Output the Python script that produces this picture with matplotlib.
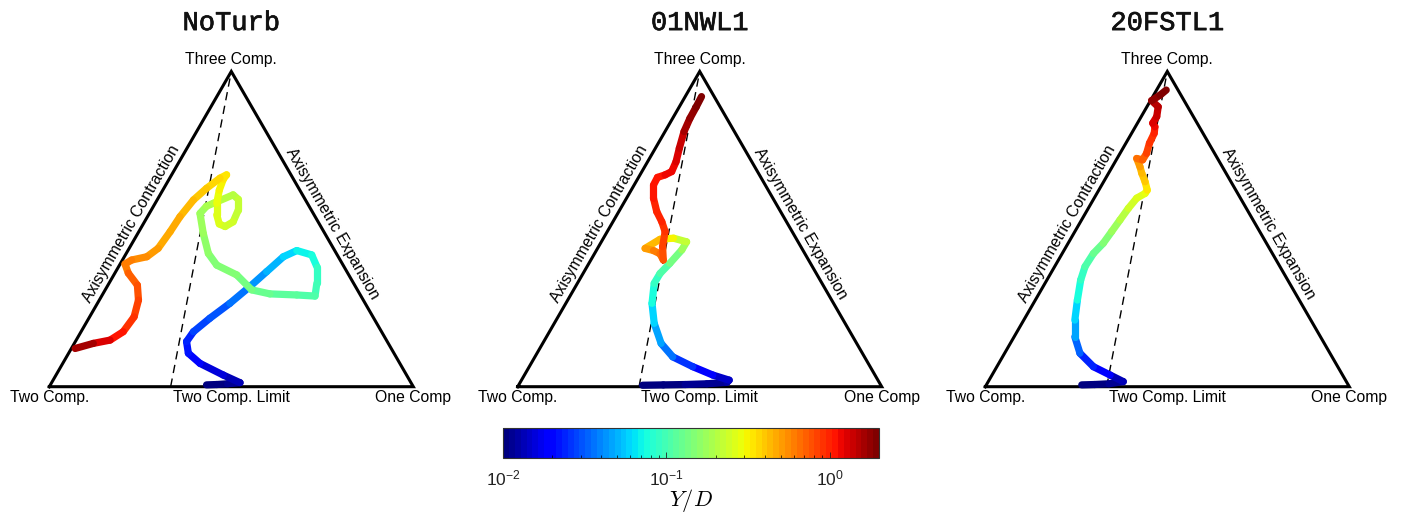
import numpy as np
import matplotlib
matplotlib.use('Agg')
import matplotlib.pyplot as plt
from matplotlib.collections import LineCollection
from matplotlib.colors import LogNorm
import matplotlib.ticker as mticker
import matplotlib.cm as cm
import matplotlib.patheffects as pe

plt.rcParams['font.family'] = ['Liberation Sans', 'DejaVu Sans']
plt.rcParams['mathtext.fontset'] = 'custom'
plt.rcParams['mathtext.rm'] = 'Liberation Sans'
plt.rcParams['mathtext.it'] = 'Liberation Sans:italic'

# ---------------- data ----------------
titles = ['NoTurb', '01NWL1', '20FSTL1']
corner_labels = ['Two Comp.', 'Two Comp. Limit', 'One Comp', 'Three Comp.']
edge_labels = ['Axisymmetric Contraction', 'Axisymmetric Expansion']
cbar_ticks = [0.01, 0.1, 1.0]
cbar_range = [0.01, 2.0]

# barycentric-map coordinates (x, y) and wall distance Y/D
noturb_x = [0.432, 0.460, 0.490, 0.524, 0.478, 0.414, 0.382, 0.377, 0.396, 0.441,
            0.496, 0.551, 0.597, 0.643, 0.680, 0.721, 0.735, 0.735, 0.730, 0.680,
            0.606, 0.556, 0.515, 0.460, 0.437, 0.423, 0.414, 0.432, 0.451, 0.505,
            0.519, 0.519, 0.505, 0.483, 0.467, 0.460, 0.460, 0.467, 0.478, 0.487,
            0.469, 0.432, 0.396, 0.359, 0.332, 0.299, 0.268, 0.226, 0.208, 0.217,
            0.242, 0.245, 0.233, 0.203, 0.167, 0.121, 0.071]
noturb_y = [0.005, 0.006, 0.008, 0.011, 0.032, 0.064, 0.092, 0.124, 0.151, 0.188,
            0.229, 0.275, 0.316, 0.357, 0.374, 0.362, 0.330, 0.284, 0.249, 0.252,
            0.255, 0.266, 0.307, 0.334, 0.366, 0.421, 0.476, 0.496, 0.504, 0.527,
            0.515, 0.485, 0.453, 0.440, 0.447, 0.472, 0.504, 0.540, 0.570, 0.582,
            0.573, 0.545, 0.513, 0.467, 0.426, 0.380, 0.357, 0.348, 0.337, 0.312,
            0.279, 0.238, 0.192, 0.151, 0.128, 0.119, 0.105]
noturb_yd = [0.010, 0.0105, 0.011, 0.012, 0.015, 0.018, 0.021, 0.023, 0.026, 0.029,
             0.033, 0.039, 0.046, 0.055, 0.065, 0.075, 0.083, 0.092, 0.100, 0.108,
             0.118, 0.127, 0.137, 0.147, 0.156, 0.165, 0.175, 0.185, 0.195, 0.205,
             0.215, 0.225, 0.235, 0.245, 0.255, 0.265, 0.280, 0.300, 0.320, 0.340,
             0.360, 0.390, 0.420, 0.450, 0.470, 0.500, 0.530, 0.560, 0.600, 0.650,
             0.720, 0.800, 0.880, 0.980, 1.150, 1.400, 1.750]

nwl_x = [0.343, 0.400, 0.460, 0.520, 0.575, 0.581, 0.536, 0.481, 0.426, 0.394,
         0.375, 0.369, 0.375, 0.391, 0.418, 0.451, 0.464, 0.428, 0.391, 0.350,
         0.373, 0.391, 0.400, 0.398, 0.405, 0.396, 0.382, 0.373, 0.373, 0.384,
         0.405, 0.423, 0.435, 0.444, 0.457, 0.473, 0.490, 0.505]
nwl_y = [0.004, 0.005, 0.006, 0.008, 0.012, 0.018, 0.032, 0.055, 0.082, 0.119,
         0.174, 0.229, 0.284, 0.311, 0.339, 0.376, 0.398, 0.408, 0.405, 0.380,
         0.374, 0.365, 0.348, 0.385, 0.426, 0.453, 0.481, 0.518, 0.554, 0.575,
         0.582, 0.591, 0.618, 0.655, 0.701, 0.737, 0.768, 0.797]
nwl_yd = [0.010, 0.0105, 0.011, 0.0115, 0.012, 0.013, 0.016, 0.022, 0.030, 0.040,
          0.052, 0.065, 0.085, 0.100, 0.120, 0.150, 0.200, 0.270, 0.360, 0.480,
          0.560, 0.640, 0.720, 0.820, 0.900, 0.950, 0.990, 1.020, 1.050, 1.080,
          1.120, 1.170, 1.250, 1.350, 1.500, 1.650, 1.800, 2.000]

fstl_x = [0.265, 0.300, 0.340, 0.379, 0.343, 0.297, 0.260, 0.246, 0.246, 0.253,
          0.262, 0.274, 0.297, 0.324, 0.347, 0.370, 0.393, 0.416, 0.439, 0.445,
          0.439, 0.430, 0.425, 0.416, 0.432, 0.443, 0.451, 0.464, 0.466, 0.460,
          0.471, 0.475, 0.457, 0.480, 0.497]
fstl_y = [0.005, 0.006, 0.008, 0.014, 0.032, 0.055, 0.092, 0.137, 0.183, 0.238,
          0.293, 0.330, 0.366, 0.394, 0.426, 0.458, 0.490, 0.518, 0.531, 0.540,
          0.563, 0.586, 0.604, 0.627, 0.623, 0.641, 0.669, 0.696, 0.714, 0.724,
          0.742, 0.769, 0.786, 0.801, 0.815]
fstl_yd = [0.010, 0.0105, 0.011, 0.012, 0.016, 0.021, 0.028, 0.040, 0.055, 0.068,
           0.085, 0.100, 0.120, 0.140, 0.160, 0.190, 0.220, 0.260, 0.280, 0.310,
           0.360, 0.420, 0.480, 0.580, 0.680, 0.780, 0.880, 0.980, 1.080, 1.180,
           1.280, 1.400, 1.600, 1.800, 2.000]

series = [(noturb_x, noturb_y, noturb_yd),
          (nwl_x, nwl_y, nwl_yd),
          (fstl_x, fstl_y, fstl_yd)]

# ---------------- figure ----------------
W, H = 1402, 515
fig = plt.figure(figsize=(W / 100, H / 100), dpi=100)
fig.patch.set_facecolor('white')

cmap = matplotlib.colormaps['jet'].resampled(64)
norm = LogNorm(vmin=cbar_range[0], vmax=cbar_range[1])

S = 364.0            # px per unit of barycentric map
x0s = [49.3, 517.7, 985.3]
base = 128.3
xl = (-0.13, 1.13)
yl = (-0.10, 1.00)
h3 = np.sqrt(3) / 2

for i in range(3):
    x0 = x0s[i]
    ax = fig.add_axes([(x0 + xl[0] * S) / W, (base + yl[0] * S) / H,
                       (xl[1] - xl[0]) * S / W, (yl[1] - yl[0]) * S / H])
    ax.set_xlim(*xl)
    ax.set_ylim(*yl)
    ax.axis('off')

    # triangle
    tri = np.array([[0, 0], [1, 0], [0.5, h3], [0, 0]])
    ax.plot(tri[:, 0], tri[:, 1], color='black', lw=2.2,
            solid_joinstyle='miter', zorder=2)
    # plane-strain dashed line
    ax.plot([1 / 3, 0.5], [0, h3], color='black', lw=1.0,
            dashes=(6, 4), zorder=2)

    # trajectory
    x, y, yd = series[i]
    pts = np.column_stack([x, y])
    segs = np.stack([pts[:-1], pts[1:]], axis=1)
    yd = np.asarray(yd)
    vals = np.sqrt(yd[:-1] * yd[1:])
    lc = LineCollection(segs, cmap=cmap, norm=norm, linewidths=5.2,
                        capstyle='round', joinstyle='round', zorder=3)
    lc.set_array(vals)
    ax.add_collection(lc)

    # labels
    fs = 11.3
    ax.text(0.5, 0.900, corner_labels[3], ha='center', va='center', fontsize=fs)
    ax.text(0.0, -0.031, corner_labels[0], ha='center', va='center', fontsize=fs)
    ax.text(0.5, -0.031, corner_labels[1], ha='center', va='center', fontsize=fs)
    ax.text(1.0, -0.031, corner_labels[2], ha='center', va='center', fontsize=fs)
    ax.text(0.224, 0.448, edge_labels[0], ha='center', va='center',
            rotation=60, rotation_mode='anchor', fontsize=fs)
    ax.text(0.777, 0.449, edge_labels[1], ha='center', va='center',
            rotation=-60, rotation_mode='anchor', fontsize=fs)

    ax.text(0.5, 0.999, titles[i], ha='center', va='center', fontsize=19.5,
            family='Liberation Mono', color='#111111', clip_on=False,
            path_effects=[pe.withStroke(linewidth=0.5, foreground='#111111')])

# colorbar
cax = fig.add_axes([503 / W, (H - 457.5) / H, 376 / W, 30 / H])
sm = cm.ScalarMappable(norm=norm, cmap=cmap)
cb = fig.colorbar(sm, cax=cax, orientation='horizontal')
cb.set_ticks(cbar_ticks)
cax.xaxis.set_minor_formatter(mticker.NullFormatter())
cb.outline.set_linewidth(0.8)
cb.outline.set_edgecolor('#333333')
cax.tick_params(which='major', direction='in', length=4, width=0.6,
                labelsize=12.5, pad=8, bottom=True, top=False, colors='#222222')
cax.tick_params(which='minor', direction='in', length=2.5, width=0.5,
                bottom=True, top=False)
cax.set_xlabel('$Y/D$', math_fontfamily='cm', fontsize=16, labelpad=-1)

fig.savefig('out.png', dpi=100, facecolor='white')
